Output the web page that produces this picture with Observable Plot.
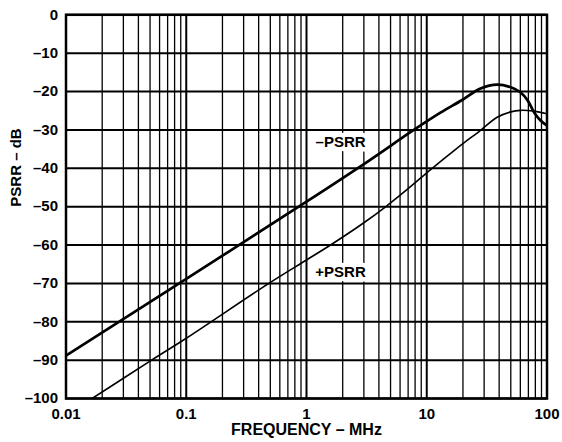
<!DOCTYPE html>
<html><head><meta charset="utf-8">
<script src="https://cdn.jsdelivr.net/npm/d3@7"></script>
<script src="https://cdn.jsdelivr.net/npm/@observablehq/plot@0.6"></script>
<style>
body{margin:0;background:#fff}
svg{font-family:"Liberation Sans",Arial,sans-serif;}
</style>
</head><body><div id="chart"></div>
<script>
// -PSRR (thick curve)
const negFreq = [0.01, 0.1, 1, 3, 7.8, 13, 19.7, 28, 38.5, 50, 60, 69, 78, 88, 100];
const negPsrr = [-88.8, -68.8, -48.7, -38.9, -30, -25.5, -22.2, -19.2, -18.2, -18.9, -20.2, -22.3, -25.4, -27.5, -28.9];
// +PSRR (thin curve)
const posFreq = [0.0165, 0.0515, 0.1, 0.486, 1, 1.585, 3, 4.6, 7.0, 10.9, 17.5, 28, 38.5, 50, 60, 78, 100];
const posPsrr = [-100, -90, -84.3, -70, -63.9, -60, -54.2, -49.9, -45.3, -40.2, -35, -30.1, -26.7, -25.3, -24.9, -25.1, -25.8];
// curve labels
const labelText = ["–PSRR", "+PSRR"];
const labelFreq = [1.92, 1.92];
const labelDb = [-33.2, -67.1];
// axes
const xTicks = [0.01, 0.1, 1, 10, 100];
const xTickLabels = ["0.01", "0.1", "1", "10", "100"];
const yTicks = [0, -10, -20, -30, -40, -50, -60, -70, -80, -90, -100];
const yTickLabels = ["0", "–10", "–20", "–30", "–40", "–50", "–60", "–70", "–80", "–90", "–100"];
const xTitle = "FREQUENCY – MHz";
const yTitle = "PSRR – dB";

const minorX = [];
for (const dec of [0.01, 0.1, 1, 10]) for (let k = 2; k <= 9; k++) minorX.push(+(dec * k).toPrecision(3));

const negData = negFreq.map((f, i) => ({f, v: negPsrr[i]}));
const posData = posFreq.map((f, i) => ({f, v: posPsrr[i]}));
const labels = labelText.map((t, i) => ({t, f: labelFreq[i], v: labelDb[i]}));
const xMap = new Map(xTicks.map((d, i) => [d, xTickLabels[i]]));
const yMap = new Map(yTicks.map((d, i) => [d, yTickLabels[i]]));

const chart = Plot.plot({
  width: 562, height: 442,
  marginLeft: 65.5, marginRight: 15.5, marginTop: 14.3, marginBottom: 44,
  x: {type: "log", domain: [0.01, 100]},
  y: {domain: [-100, 0]},
  style: {fontFamily: "'Liberation Sans', Arial, sans-serif", fontSize: "15px", fontWeight: "bold", color: "black", background: "white", overflow: "visible"},
  marks: [
    Plot.ruleX(minorX, {stroke: "black", strokeWidth: 1.3}),
    Plot.ruleX(xTicks, {stroke: "black", strokeWidth: 2}),
    Plot.ruleY(yTicks, {stroke: "black", strokeWidth: 2}),
    Plot.line(posData, {x: "f", y: "v", curve: "catmull-rom", stroke: "black", strokeWidth: 1.6, clip: true}),
    Plot.line(negData, {x: "f", y: "v", curve: "catmull-rom", stroke: "black", strokeWidth: 2.7, clip: true}),
    Plot.text(labels, {x: "f", y: "v", text: "t", fill: "black", stroke: "white", strokeWidth: 9, strokeLinejoin: "round", fontSize: 15, fontWeight: "bold"}),
    Plot.frame({stroke: "black", strokeWidth: 2.5}),
    Plot.axisX(xTicks, {tickSize: 0, tickPadding: 10, tickFormat: d => xMap.get(d), label: null, fontSize: 15, fontWeight: "bold"}),
    Plot.axisY(yTicks, {tickSize: 0, tickPadding: 8, tickFormat: d => yMap.get(d), label: null, fontSize: 15, fontWeight: "bold"}),
    Plot.text([xTitle], {frameAnchor: "bottom", dy: 36, fontSize: 16, fontWeight: "bold", fill: "black"}),
    Plot.text([yTitle], {frameAnchor: "left", dx: -50, rotate: -90, fontSize: 15, fontWeight: "bold", fill: "black"})
  ]
});
document.getElementById("chart").appendChild(chart);
</script>
</body></html>
